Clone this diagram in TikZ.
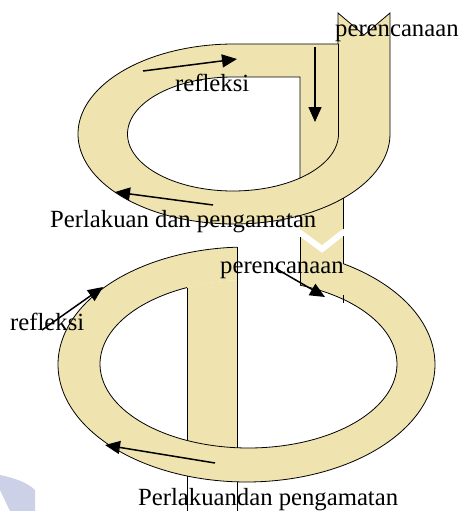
\documentclass[tikz,border=0pt]{standalone}
\usepackage{fontspec}
\setmainfont{Liberation Serif}
\usetikzlibrary{arrows.meta}
\definecolor{beige}{RGB}{239,227,175}
\definecolor{wm}{RGB}{205,209,232}
\begin{document}
\begin{tikzpicture}[x=1pt,y=-1pt,
  outl/.style={draw=black,line width=0.8pt},
  arr/.style={line width=1.5pt,-{Triangle[length=15pt,width=13pt]}},
  lbl/.style={font=\fontsize{24.7}{28}\selectfont,inner sep=0pt,anchor=base west}]
\useasboundingbox (0,0) rectangle (461,511);
% watermark fragment
\fill[wm] (0,475) .. controls (15,478) and (28,483) .. (35,490) -- (35,511) -- (10,511) -- (0,490) -- cycle;
% connecting band
\fill[beige] (300,190) -- (343,190) -- (343,264) -- (300,286) -- cycle;
% top loop
\path[fill=beige,outl] (234,44) -- (338,44) -- (338,13) -- (364,35) -- (390,13) -- (390,134)
  -- plot[domain=0:270,samples=90,smooth] ({234+156*cos(\x)},{134+90*sin(\x)}) -- cycle;
\path[fill=white,outl] (300,77) -- (300,178)
  -- plot[domain=50.6:270,samples=80,smooth] ({233+105.5*cos(\x)},{134+57*sin(\x)}) -- cycle;
\draw[outl] (338.5,44) -- (338.5,134)
  -- plot[domain=0:50.6,samples=20,smooth] ({233+105.5*cos(\x)},{134+57*sin(\x)});
% lower loop
\path[fill=beige] (343,240) -- (343,263.6)
  -- plot[domain=-59.2:267.1,samples=110,smooth] ({246.5+188.5*cos(\x)},{364.5+117.5*sin(\x)})
  -- (237,280.2)
  -- plot[domain=-265.6:69.7,samples=110,smooth] ({248.5+148.5*cos(-\x)},{364+84*sin(-\x)})
  -- (300,240) -- cycle;
\begin{scope}
  \clip (187,0) rectangle (237,511);
  \fill[beige] (248.5,364) ellipse [x radius=148.5, y radius=84];
\end{scope}
\draw[outl] plot[domain=-59.2:267.1,samples=110,smooth] ({246.5+188.5*cos(\x)},{364.5+117.5*sin(\x)});
\draw[outl] plot[domain=-69.7:245.5,samples=110,smooth] ({248.5+148.5*cos(\x)},{364+84*sin(\x)});
\draw[outl] (237,247.2) -- (237,447.8);
\draw[outl] (237,481.9) -- (237,511);
\draw[outl] (187,287.6) -- (187,440.4);
\draw[outl] (187,476) -- (187,511);
\draw[outl] (300,237) -- (300,285.2);
\draw[outl] (343,198.4) -- (343,263.6);
\draw[outl] (343,295) -- (343,303);
% chevron notch
\draw[white,line width=6pt] (299,232) -- (322,249) -- (345,231);
% arrow end points
\coordinate (a1s) at (143,71);  \coordinate (a1e) at (237,59);
\coordinate (a2s) at (315,47);  \coordinate (a2e) at (315,122);
\coordinate (a3s) at (213,205); \coordinate (a3e) at (115,192);
\coordinate (a4s) at (275,268); \coordinate (a4e) at (325,297);
\coordinate (a5s) at (42,330);  \coordinate (a5e) at (103,287);
\coordinate (a6s) at (215,463); \coordinate (a6e) at (105,445);
\draw[arr] (a1s) -- (a1e);
\draw[arr] (a2s) -- (a2e);
\draw[arr] (a3s) -- (a3e);
\draw[arr] (a4s) -- (a4e);
\draw[arr] (a5s) -- (a5e);
\draw[arr] (a6s) -- (a6e);
% labels
\node[lbl] (p1) at (335,37) {perencanaan};
\node[lbl] (r1) at (175,91) {refleksi};
\node[lbl] (pl1) at (50,227) {Perlakuan dan pengamatan};
\node[lbl] (p2) at (220,273) {perencanaan};
\node[lbl] (r2) at (10,330) {refleksi};
\node[lbl] (pl2) at (138,505) {Perlakuandan pengamatan};
\end{tikzpicture}
\end{document}
